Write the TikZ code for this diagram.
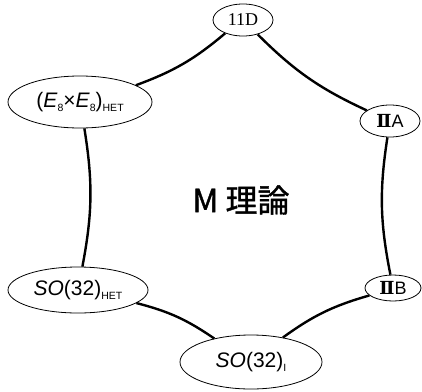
\documentclass[tikz,border=0pt]{standalone}
\usepackage{fontspec}
\setmainfont{Liberation Sans}
\newfontfamily\cjkfont[FakeBold=1.2]{Noto Sans CJK JP}
\newfontfamily\serifnum{Liberation Serif}
\newfontfamily\romnum{DejaVu Serif}
\usetikzlibrary{shapes.geometric}
% small lowered index (subscript) in text mode
\newcommand\lowidx[1]{\raisebox{-0.2em}{\fontsize{10.5}{10.5}\selectfont #1}}
% Roman numeral two
\newcommand\romtwo{{\romnum\bfseries Ⅱ}}
\begin{document}
\begin{tikzpicture}[x=1pt,y=-1pt,
  state/.style={ellipse,draw,line width=0.8pt,inner sep=0pt,fill=white},
  link/.style={line width=2.4pt},
  big/.style={font=\fontsize{21}{21}\selectfont},
  small/.style={font=\fontsize{18}{18}\selectfont}]
\useasboundingbox (0,0) rectangle (422,391);

\node[font=\cjkfont\fontsize{32}{32}\selectfont] (title) at (241,200) {M 理論};

\node[state,small,minimum width=60pt,minimum height=32pt] (d11) at (243,20) {\serifnum 11D};
\node[state,small,minimum width=60pt,minimum height=32pt] (iia) at (390,121) {\romtwo A};
\node[state,small,minimum width=56pt,minimum height=26pt] (iib) at (393,288) {\romtwo B};
\node[state,big,minimum width=142pt,minimum height=54pt] (soi) at (251,362) {\textit{SO}(32)\lowidx{I}};
\node[state,big,minimum width=140pt,minimum height=46pt] (sohet) at (78,290) {\textit{SO}(32)\lowidx{HET}};
\node[state,big,minimum width=144pt,minimum height=52pt] (ehet) at (80,102) {(\textit{E}\lowidx{8}\texttimes\textit{E}\lowidx{8})\lowidx{HET}};

\draw[link] (d11) to[bend right=10] (iia);
\draw[link] (iia) to[bend right=10] (iib);
\draw[link] (iib) to[bend right=10] (soi);
\draw[link] (soi) to[bend right=10] (sohet);
\draw[link] (sohet) to[bend right=10] (ehet);
\draw[link] (ehet) to[bend right=10] (d11);
\end{tikzpicture}
\end{document}
